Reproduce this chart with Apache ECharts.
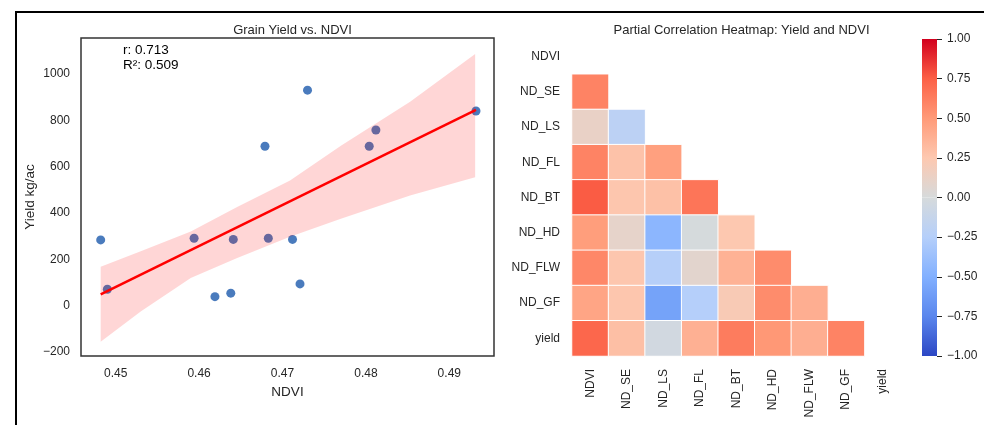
<!DOCTYPE html>
<html>
<head>
<meta charset="utf-8">
<script src="https://cdn.jsdelivr.net/npm/echarts@6/dist/echarts.min.js"></script>
<style>html,body{margin:0;padding:0;background:#fff;}#chart{width:984px;height:425px;}</style>
</head>
<body>
<div id="chart"></div>
<script>
// ---------- data: scatter ----------
const ndvi     = [0.4482, 0.4490, 0.4594, 0.4619, 0.4638, 0.4641, 0.4679, 0.4683, 0.4712, 0.4721, 0.4730, 0.4804, 0.4812, 0.4932];
const yieldKg  = [284, 71, 291, 39, 54, 286, 688, 291, 286, 94, 930, 688, 758, 840];
// regression line
const fitX = [0.4482, 0.4932];
const fitY = [49, 845];
// confidence band
const bandX  = [0.4482, 0.4530, 0.4590, 0.4645, 0.4709, 0.4770, 0.4853, 0.4931];
const bandHi = [168, 235, 320, 425, 540, 690, 880, 1086];
const bandLo = [-155, -25, 120, 205, 298, 375, 475, 554];
const statText = 'r: 0.713\nR\u00b2: 0.509';

// ---------- data: partial correlation heatmap ----------
const varLabels = ['NDVI', 'ND_SE', 'ND_LS', 'ND_FL', 'ND_BT', 'ND_HD', 'ND_FLW', 'ND_GF', 'yield'];
const rowND_SE  = [0.60];
const rowND_LS  = [0.12, -0.20];
const rowND_FL  = [0.60, 0.28, 0.47];
const rowND_BT  = [0.76, 0.26, 0.29, 0.66];
const rowND_HD  = [0.48, 0.10, -0.45, -0.01, 0.25];
const rowND_FLW = [0.58, 0.26, -0.24, 0.08, 0.37, 0.56];
const rowND_GF  = [0.44, 0.26, -0.58, -0.25, 0.22, 0.56, 0.39];
const rowYield  = [0.72, 0.30, -0.04, 0.38, 0.63, 0.51, 0.39, 0.60];
const lowerRows = [null, rowND_SE, rowND_LS, rowND_FL, rowND_BT, rowND_HD, rowND_FLW, rowND_GF, rowYield];
const cbMin = -1, cbMax = 1, cbStep = 0.25;

// ---------- styles ----------
const FONT = '"Liberation Sans", Arial, sans-serif';
const TXT = '#262626';
// colormap, evenly spaced from -1 to 1
const cmap = ['#2c47c4', '#5a86ed', '#82b0ff', '#b5cffa', '#d6dadb', '#fdc8b0', '#ff9a78', '#fc6046', '#d2001e'];

const heatData = [];
for (let i = 1; i < lowerRows.length; i++) {
  const r = lowerRows[i];
  for (let j = 0; j < r.length; j++) heatData.push([j, i, r[j]]);
}
const scatterData = ndvi.map((x, i) => [x, yieldKg[i]]);
const fitData = fitX.map((x, i) => [x, fitY[i]]);

const chart = echarts.init(document.getElementById('chart'));
const minus = s => String(s).replace('-', '\u2212');

const topGrad = new echarts.graphic.LinearGradient(0, 0, 0, 1, [
  {offset: 0, color: cmap[8]}, {offset: 0.25, color: cmap[7]}, {offset: 0.5, color: cmap[6]},
  {offset: 0.75, color: cmap[5]}, {offset: 1, color: cmap[4]}]);
const botGrad = new echarts.graphic.LinearGradient(0, 0, 0, 1, [
  {offset: 0, color: cmap[4]}, {offset: 0.25, color: cmap[3]}, {offset: 0.5, color: cmap[2]},
  {offset: 0.75, color: cmap[1]}, {offset: 1, color: cmap[0]}]);

const option = {
  backgroundColor: '#fff',
  animation: false,
  textStyle: {fontFamily: FONT},
  title: [
    {text: 'Grain Yield vs. NDVI', left: 287.5, top: 19, textAlign: 'center',
     textStyle: {fontFamily: FONT, fontSize: 13, fontWeight: 'normal', color: TXT}},
    {text: 'Partial Correlation Heatmap: Yield and NDVI', left: 736.5, top: 19, textAlign: 'center',
     textStyle: {fontFamily: FONT, fontSize: 13, fontWeight: 'normal', color: TXT}}
  ],
  graphic: [
    {type: 'rect', shape: {x: 16, y: 12, width: 1000, height: 500}, style: {fill: null, stroke: '#000', lineWidth: 2}, silent: true},
    {type: 'text', left: 123, top: 43.5, style: {text: statText, fontFamily: FONT, fontSize: 13.5, lineHeight: 14.5, fill: '#000'}}
  ],
  grid: [
    {left: 81, top: 38, width: 413, height: 318, show: true, borderColor: '#333', borderWidth: 1.5, backgroundColor: 'transparent'},
    {left: 572, top: 39, width: 329, height: 317},
    {left: 922, top: 39, width: 15, height: 317}
  ],
  visualMap: {
    type: 'continuous', min: cbMin, max: cbMax, show: false, seriesIndex: 3,
    inRange: {color: cmap}
  },
  xAxis: [
    {type: 'value', gridIndex: 0, min: 0.44584, max: 0.49536, splitNumber: 5,
     name: 'NDVI', nameLocation: 'middle', nameGap: 27,
     nameTextStyle: {fontFamily: FONT, fontSize: 13.5, color: TXT},
     axisLine: {show: false}, axisTick: {show: false}, splitLine: {show: false},
     axisLabel: {showMinLabel: false, showMaxLabel: false, margin: 12, fontFamily: FONT, fontSize: 12, color: TXT,
       formatter: v => v.toFixed(2)}},
    {type: 'category', gridIndex: 1, data: varLabels,
     axisLine: {show: false}, axisTick: {show: false}, splitLine: {show: false},
     axisLabel: {rotate: 90, margin: 13, fontFamily: FONT, fontSize: 12, color: TXT, interval: 0}},
    {type: 'category', gridIndex: 2, data: ['cb'], show: false}
  ],
  yAxis: [
    {type: 'value', gridIndex: 0, min: -217, max: 1155, splitNumber: 7,
     name: 'Yield kg/ac', nameLocation: 'middle', nameGap: 44,
     nameTextStyle: {fontFamily: FONT, fontSize: 13.5, color: TXT},
     axisLine: {show: false}, axisTick: {show: false}, splitLine: {show: false},
     axisLabel: {showMinLabel: false, showMaxLabel: false, margin: 11, fontFamily: FONT, fontSize: 12, color: TXT,
       formatter: v => minus(Math.round(v))}},
    {type: 'category', gridIndex: 1, data: varLabels, inverse: true,
     axisLine: {show: false}, axisTick: {show: false}, splitLine: {show: false},
     axisLabel: {margin: 12, fontFamily: FONT, fontSize: 12, color: TXT, interval: 0}},
    {type: 'value', gridIndex: 2, min: cbMin, max: cbMax, interval: cbStep, position: 'right',
     axisLine: {show: false}, splitLine: {show: false},
     axisTick: {show: true, length: 5, lineStyle: {color: TXT, width: 1}},
     axisLabel: {margin: 10, fontFamily: FONT, fontSize: 12, color: TXT, formatter: v => minus(v.toFixed(2))}}
  ],
  series: [
    {type: 'scatter', xAxisIndex: 0, yAxisIndex: 0, data: scatterData, symbolSize: 9, z: 2,
     itemStyle: {color: '#4a7bbd', opacity: 1}},
    {type: 'custom', xAxisIndex: 0, yAxisIndex: 0, z: 3, silent: true,
     data: [[bandX[0], bandHi[0]]],
     renderItem: function (params, api) {
       if (params.dataIndex !== 0) return null;
       const pts = [];
       for (let i = 0; i < bandX.length; i++) pts.push(api.coord([bandX[i], bandHi[i]]));
       for (let i = bandX.length - 1; i >= 0; i--) pts.push(api.coord([bandX[i], bandLo[i]]));
       return {type: 'polygon', shape: {points: pts}, style: {fill: 'rgba(255,0,0,0.16)', stroke: null}};
     }},
    {type: 'line', xAxisIndex: 0, yAxisIndex: 0, data: fitData, z: 4, symbol: 'none',
     lineStyle: {color: '#ff0000', width: 2.5}},
    {type: 'heatmap', xAxisIndex: 1, yAxisIndex: 1, data: heatData,
     itemStyle: {borderColor: '#fff', borderWidth: 1}},
    {type: 'bar', xAxisIndex: 2, yAxisIndex: 2, stack: 'cb', barWidth: '100%', data: [cbMax],
     itemStyle: {color: topGrad}, silent: true},
    {type: 'bar', xAxisIndex: 2, yAxisIndex: 2, stack: 'cb', barWidth: '100%', data: [cbMin],
     itemStyle: {color: botGrad}, silent: true}
  ]
};
chart.setOption(option);
</script>
</body>
</html>
